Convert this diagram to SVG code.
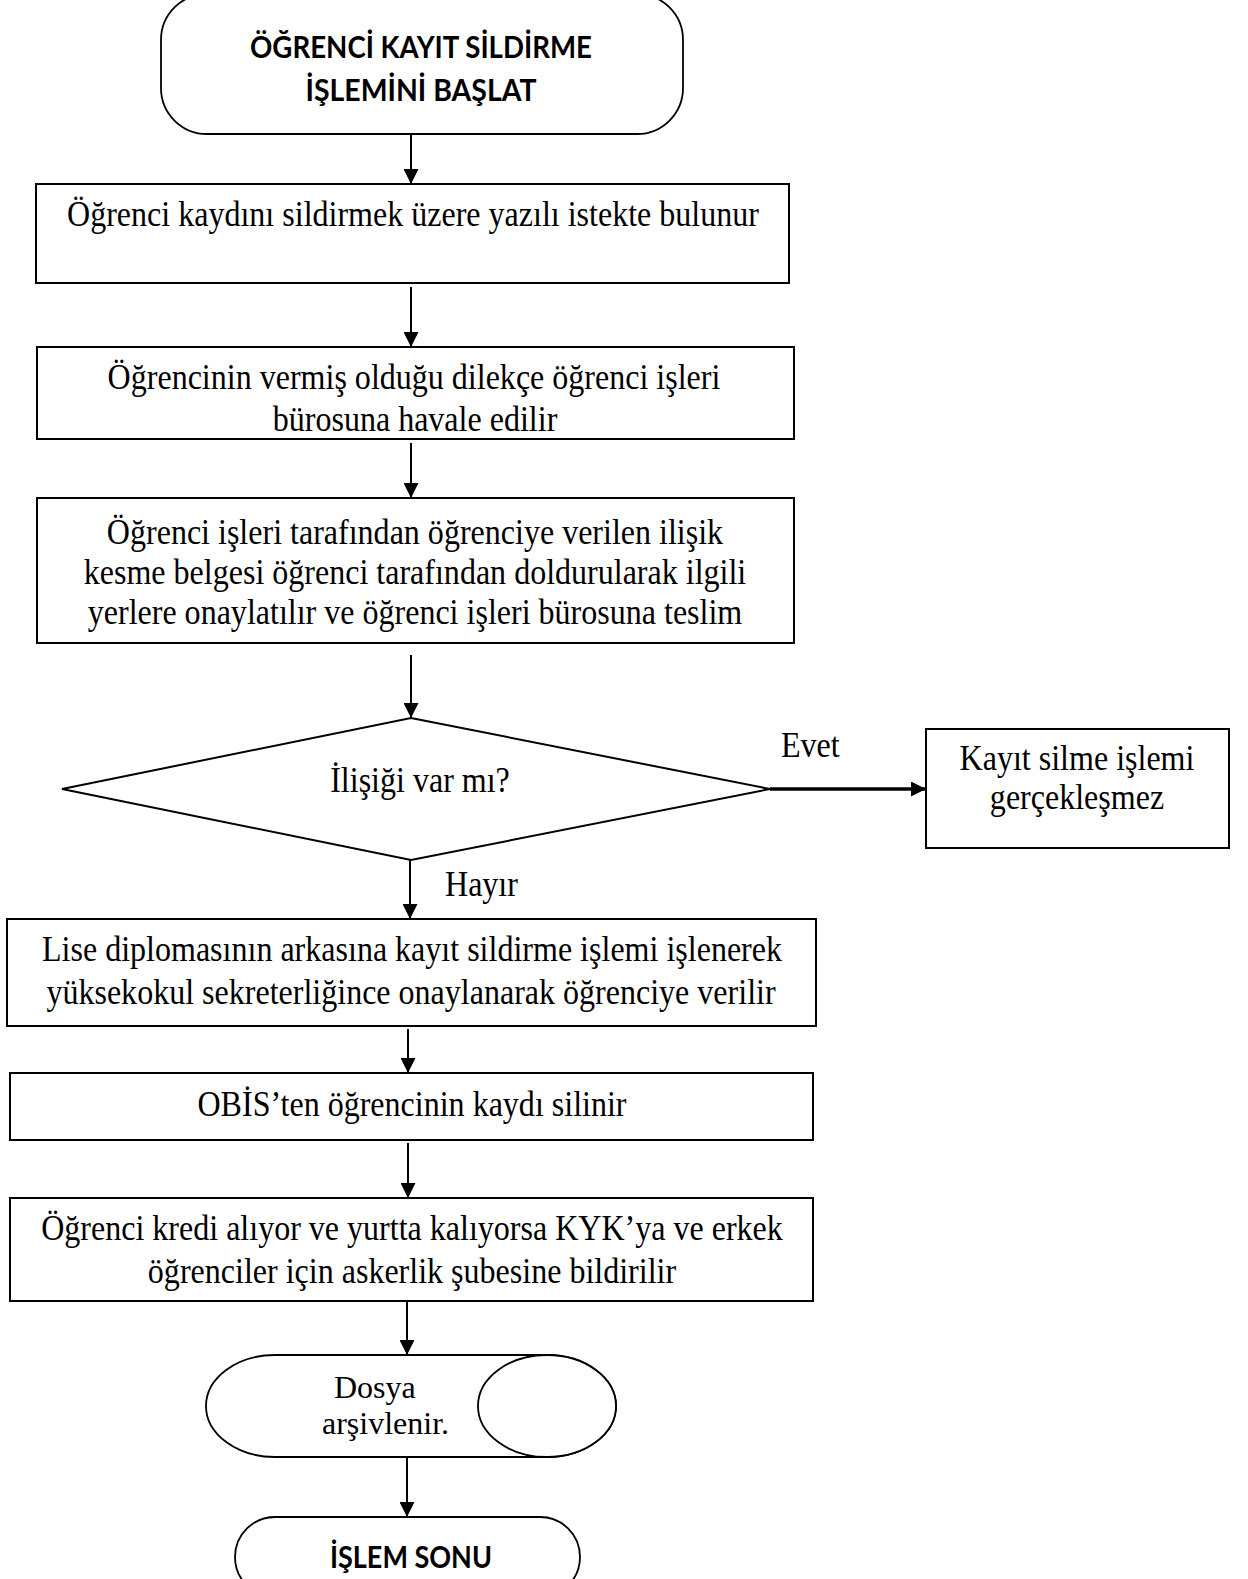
<svg xmlns="http://www.w3.org/2000/svg" width="1248" height="1579" viewBox="0 0 1248 1579">
  <style>
    .box { fill: #ffffff; stroke: #000000; stroke-width: 2; }
    .term { fill: #ffffff; stroke: #000000; stroke-width: 1.8; }
    .flow { fill: none; stroke: #000000; stroke-width: 2; }
    .flow-bold { fill: none; stroke: #000000; stroke-width: 3.5; }
    .t { font-family: "Liberation Serif", "Times New Roman", serif; font-size: 36px; fill: #000000; }
    .s { font-size: 32px; }
    .c { text-anchor: middle; }
    .h { font-family: Lato, "Open Sans", "Liberation Sans", sans-serif; font-weight: bold; font-size: 31px; fill: #000000; text-anchor: middle; }
  </style>
  <defs>
    <marker id="arrow" viewBox="0 0 15 15" refX="15" refY="7.5" markerWidth="15" markerHeight="15" markerUnits="userSpaceOnUse" orient="auto">
      <path d="M0,0 L15,7.5 L0,15 Z" fill="#000000"/>
    </marker>
  </defs>

  <rect width="1248" height="1579" fill="#ffffff"/>

  <!-- connectors -->
  <g id="connectors">
    <line class="flow" x1="411" y1="134" x2="411" y2="184" marker-end="url(#arrow)"/>
    <line class="flow" x1="411" y1="287" x2="411" y2="347" marker-end="url(#arrow)"/>
    <line class="flow" x1="411" y1="443" x2="411" y2="498" marker-end="url(#arrow)"/>
    <line class="flow" x1="411" y1="655" x2="411" y2="718" marker-end="url(#arrow)"/>
    <line class="flow-bold" x1="770" y1="789" x2="926" y2="789" marker-end="url(#arrow)"/>
    <line class="flow" x1="410" y1="860" x2="410" y2="919" marker-end="url(#arrow)"/>
    <line class="flow" x1="408" y1="1029" x2="408" y2="1073" marker-end="url(#arrow)"/>
    <line class="flow" x1="408" y1="1143" x2="408" y2="1198" marker-end="url(#arrow)"/>
    <line class="flow" x1="407" y1="1302" x2="407" y2="1355" marker-end="url(#arrow)"/>
    <line class="flow" x1="407" y1="1457" x2="407" y2="1517" marker-end="url(#arrow)"/>
    <text class="t" transform="translate(781,757) scale(0.89,1)">Evet</text>
    <text class="t" transform="translate(445,896) scale(0.89,1)">Hayır</text>
  </g>

  <!-- start terminator -->
  <g id="start">
    <rect class="term" x="161" y="-6" width="522" height="140" rx="46" ry="46"/>
    <text class="h" x="421" y="58" textLength="342" lengthAdjust="spacingAndGlyphs">ÖĞRENCİ KAYIT SİLDİRME</text>
    <text class="h" x="421" y="101" textLength="231" lengthAdjust="spacingAndGlyphs">İŞLEMİNİ BAŞLAT</text>
  </g>

  <g id="request">
    <rect class="box" x="36" y="184" width="753" height="99"/>
    <text class="t c" transform="translate(413,226) scale(0.89,1)">Öğrenci kaydını sildirmek üzere yazılı istekte bulunur</text>
  </g>

  <g id="petition">
    <rect class="box" x="37" y="347" width="757" height="92"/>
    <text class="t c" transform="translate(414,389) scale(0.89,1)">Öğrencinin vermiş olduğu dilekçe öğrenci işleri</text>
    <text class="t c" transform="translate(415,431) scale(0.89,1)">bürosuna havale edilir</text>
  </g>

  <g id="clearance">
    <rect class="box" x="37" y="498" width="757" height="145"/>
    <text class="t c" transform="translate(415,544) scale(0.89,1)">Öğrenci işleri tarafından öğrenciye verilen ilişik</text>
    <text class="t c" transform="translate(415,584) scale(0.89,1)">kesme belgesi öğrenci tarafından doldurularak ilgili</text>
    <text class="t c" transform="translate(415,624) scale(0.89,1)">yerlere onaylatılır ve öğrenci işleri bürosuna teslim</text>
  </g>

  <g id="decision">
    <polygon class="box" points="411,718 770,789 411,860 62,789"/>
    <text class="t c" transform="translate(420,792) scale(0.89,1)">İlişiği var mı?</text>
  </g>

  <g id="rejected">
    <rect class="box" x="926" y="729" width="303" height="119"/>
    <text class="t c" transform="translate(1077,770) scale(0.89,1)">Kayıt silme işlemi</text>
    <text class="t c" transform="translate(1077,809) scale(0.89,1)">gerçekleşmez</text>
  </g>

  <g id="diploma">
    <rect class="box" x="7" y="919" width="809" height="107"/>
    <text class="t c" transform="translate(412,961) scale(0.89,1)">Lise diplomasının arkasına kayıt sildirme işlemi işlenerek</text>
    <text class="t c" transform="translate(411,1004) scale(0.89,1)">yüksekokul sekreterliğince onaylanarak öğrenciye verilir</text>
  </g>

  <g id="obis">
    <rect class="box" x="10" y="1073" width="803" height="67"/>
    <text class="t c" transform="translate(412,1116) scale(0.89,1)">OBİS’ten öğrencinin kaydı silinir</text>
  </g>

  <g id="notify">
    <rect class="box" x="10" y="1198" width="803" height="103"/>
    <text class="t c" transform="translate(412,1240) scale(0.89,1)">Öğrenci kredi alıyor ve yurtta kalıyorsa KYK’ya ve erkek</text>
    <text class="t c" transform="translate(412,1283) scale(0.89,1)">öğrenciler için askerlik şubesine bildirilir</text>
  </g>

  <!-- stored-data (horizontal cylinder) shape -->
  <g id="archive">
    <path class="term" d="M275,1355 L547,1355 A69,51 0 0 1 547,1457 L275,1457 A69,51 0 0 1 275,1355 Z"/>
    <ellipse class="term" cx="547" cy="1406" rx="69" ry="51"/>
    <text class="t s" x="334" y="1398">Dosya</text>
    <text class="t s" x="322" y="1434">arşivlenir.</text>
  </g>

  <g id="end">
    <rect class="term" x="235" y="1517" width="345" height="80" rx="40" ry="40"/>
    <text class="h" x="411" y="1568" textLength="162" lengthAdjust="spacingAndGlyphs">İŞLEM SONU</text>
  </g>
</svg>
